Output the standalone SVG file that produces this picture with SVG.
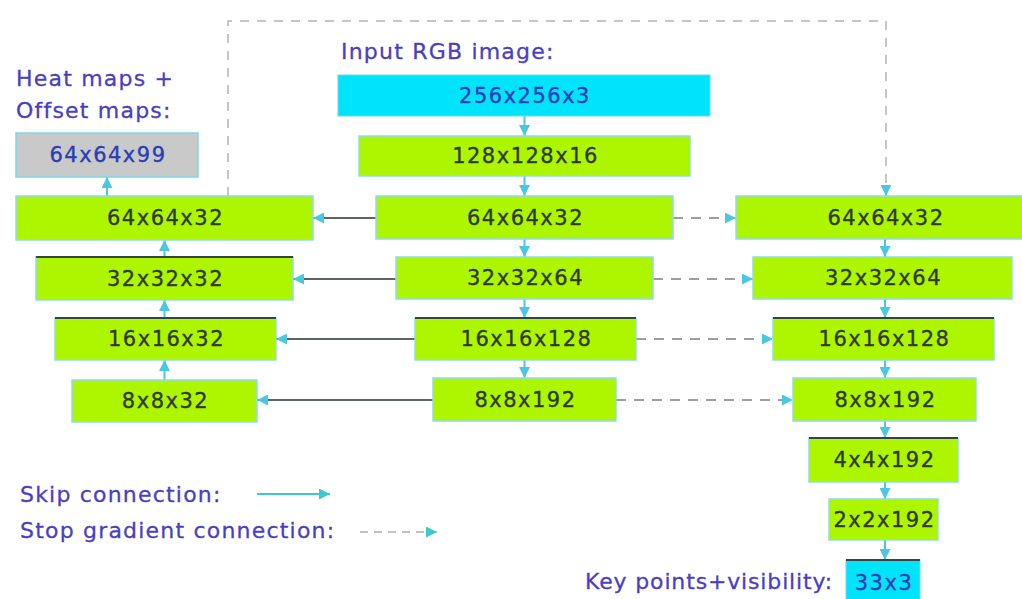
<svg xmlns="http://www.w3.org/2000/svg" width="1022" height="599" viewBox="0 0 1022 599">
<defs>
<marker id="ah" viewBox="0 0 10 10" refX="10" refY="5" markerWidth="11" markerHeight="11" markerUnits="userSpaceOnUse" orient="auto">
<path d="M0,0 L10,5 L0,10 z" fill="#4cc6e2"/>
</marker>
<marker id="aht" viewBox="0 0 10 10" refX="10" refY="5" markerWidth="11" markerHeight="11" markerUnits="userSpaceOnUse" orient="auto">
<path d="M0,0 L10,5 L0,10 z" fill="#3cc8cc"/>
</marker>
<style>
.g{fill:#aef600;stroke:#8edcec;stroke-width:1.5}
.c{fill:#00e4fb;stroke:#6fd8ee;stroke-width:1}
.gray{fill:#c9c9c9;stroke:#7fd6ea;stroke-width:1.5}
.top{stroke:#34454a;stroke-width:2}
.t{font-family:"DejaVu Sans",sans-serif;font-size:21px;letter-spacing:1.5px;text-anchor:middle;fill:#2f3a2f;stroke:#2f3a2f;stroke-width:0.35}
.tb{font-family:"DejaVu Sans",sans-serif;font-size:21px;letter-spacing:1.5px;text-anchor:middle;fill:#2a3db5;stroke:#2a3db5;stroke-width:0.35}
.lab{font-family:"DejaVu Sans",sans-serif;font-size:22px;letter-spacing:1.2px;fill:#4a3fc2;stroke:#4a3fc2;stroke-width:0.3}
.v{stroke:#4cc6e2;stroke-width:2;fill:none;marker-end:url(#ah)}
.s{stroke:#5e6466;stroke-width:2;fill:none;marker-end:url(#ah)}
.d{stroke:#9aa0a2;stroke-width:2;stroke-dasharray:10 8;fill:none;marker-end:url(#ah)}
.loop{stroke:#b0b4b6;stroke-width:1.5;stroke-dasharray:9 8;fill:none;marker-end:url(#ah)}
</style>
</defs>
<rect width="1022" height="599" fill="#ffffff"/>

<g id="connectors">
<path class="loop" d="M228,196 V21 H886 V196"/>
<line class="v" x1="524.5" y1="116" x2="524.5" y2="136"/>
<line class="v" x1="524.5" y1="176" x2="524.5" y2="196"/>
<line class="v" x1="524.5" y1="239" x2="524.5" y2="257"/>
<line class="v" x1="524.5" y1="299" x2="524.5" y2="318"/>
<line class="v" x1="524.5" y1="360" x2="524.5" y2="378"/>
<line class="v" x1="164.5" y1="380" x2="164.5" y2="360"/>
<line class="v" x1="164.5" y1="318" x2="164.5" y2="300"/>
<line class="v" x1="164.5" y1="257" x2="164.5" y2="240"/>
<line class="v" x1="107" y1="196" x2="107" y2="177"/>
<line class="v" x1="885" y1="239" x2="885" y2="257"/>
<line class="v" x1="885" y1="299" x2="885" y2="318"/>
<line class="v" x1="885" y1="360" x2="885" y2="378"/>
<line class="v" x1="885" y1="421" x2="885" y2="438"/>
<line class="v" x1="885" y1="482" x2="885" y2="499"/>
<line class="v" x1="885" y1="540" x2="885" y2="560"/>
<line class="s" x1="376" y1="218" x2="313" y2="218"/>
<line class="s" x1="396" y1="279" x2="293" y2="279"/>
<line class="s" x1="415" y1="339" x2="276" y2="339"/>
<line class="s" x1="433" y1="400" x2="257" y2="400"/>
<line class="d" x1="673" y1="218" x2="736" y2="218"/>
<line class="d" x1="653" y1="279" x2="753" y2="279"/>
<line class="d" x1="636" y1="339" x2="773" y2="339"/>
<line class="d" x1="616" y1="400" x2="793" y2="400"/>
</g>

<g id="input-label"><text class="lab" x="341" y="59">Input RGB image:</text></g>
<g id="n256"><rect class="c" x="338" y="75" width="372" height="41"/><text class="tb" x="525" y="103">256x256x3</text></g>
<g id="n128"><rect class="g" x="359" y="136" width="331" height="40"/><text class="t" x="525.5" y="163">128x128x16</text></g>
<g id="c64"><rect class="g" x="376" y="196" width="297" height="43"/><text class="t" x="525.5" y="225">64x64x32</text></g>
<g id="c32"><rect class="g" x="396" y="257" width="257" height="42"/><text class="t" x="525.5" y="285">32x32x64</text></g>
<g id="c16"><rect class="g" x="415" y="318" width="221" height="42"/><line class="top" x1="415" y1="318" x2="636" y2="318"/><text class="t" x="526.5" y="346">16x16x128</text></g>
<g id="c8"><rect class="g" x="433" y="378" width="183" height="43"/><text class="t" x="525.5" y="407">8x8x192</text></g>

<g id="heat-label"><text class="lab" x="16" y="86">Heat maps +</text><text class="lab" x="16" y="118">Offset maps:</text></g>
<g id="l99"><rect class="gray" x="16" y="133" width="182" height="44"/><text class="tb" x="108" y="162">64x64x99</text></g>
<g id="l64"><rect class="g" x="16" y="196" width="297" height="44"/><text class="t" x="165.5" y="225">64x64x32</text></g>
<g id="l32"><rect class="g" x="36" y="257" width="257" height="43"/><line class="top" x1="36" y1="257" x2="293" y2="257"/><text class="t" x="165.5" y="286">32x32x32</text></g>
<g id="l16"><rect class="g" x="55" y="318" width="221" height="42"/><line class="top" x1="55" y1="318" x2="276" y2="318" stroke="#2c4a78"/><text class="t" x="166.5" y="346">16x16x32</text></g>
<g id="l8"><rect class="g" x="72" y="380" width="185" height="42"/><text class="t" x="165.5" y="408">8x8x32</text></g>

<g id="r64"><rect class="g" x="736" y="196" width="300" height="43"/><text class="t" x="886" y="225">64x64x32</text></g>
<g id="r32"><rect class="g" x="753" y="257" width="259" height="42"/><text class="t" x="883.5" y="285">32x32x64</text></g>
<g id="r16"><rect class="g" x="773" y="318" width="221" height="42"/><line class="top" x1="773" y1="318" x2="994" y2="318"/><text class="t" x="884.5" y="346">16x16x128</text></g>
<g id="r8"><rect class="g" x="793" y="378" width="183" height="43"/><text class="t" x="885.5" y="407">8x8x192</text></g>
<g id="r4"><rect class="g" x="809" y="438" width="149" height="44"/><line class="top" x1="809" y1="438" x2="958" y2="438"/><text class="t" x="884.5" y="467">4x4x192</text></g>
<g id="r2"><rect class="g" x="829" y="499" width="109" height="41"/><text class="t" x="884.5" y="527">2x2x192</text></g>
<g id="out"><rect class="c" x="846" y="560" width="74" height="45"/><line class="top" x1="846" y1="560" x2="920" y2="560"/><text class="tb" x="884" y="590">33x3</text></g>
<g id="out-label"><text class="lab" x="585" y="589" style="letter-spacing:0.85px">Key points+visibility:</text></g>

<g id="legend">
<text class="lab" x="20" y="502">Skip connection:</text>
<line x1="257" y1="494" x2="330" y2="494" stroke="#3cc8cc" stroke-width="2" marker-end="url(#aht)"/>
<text class="lab" x="20" y="538">Stop gradient connection:</text>
<line x1="360" y1="532" x2="437" y2="532" stroke="#a8aeb0" stroke-width="1.5" stroke-dasharray="8 6" marker-end="url(#aht)"/>
</g>
</svg>
